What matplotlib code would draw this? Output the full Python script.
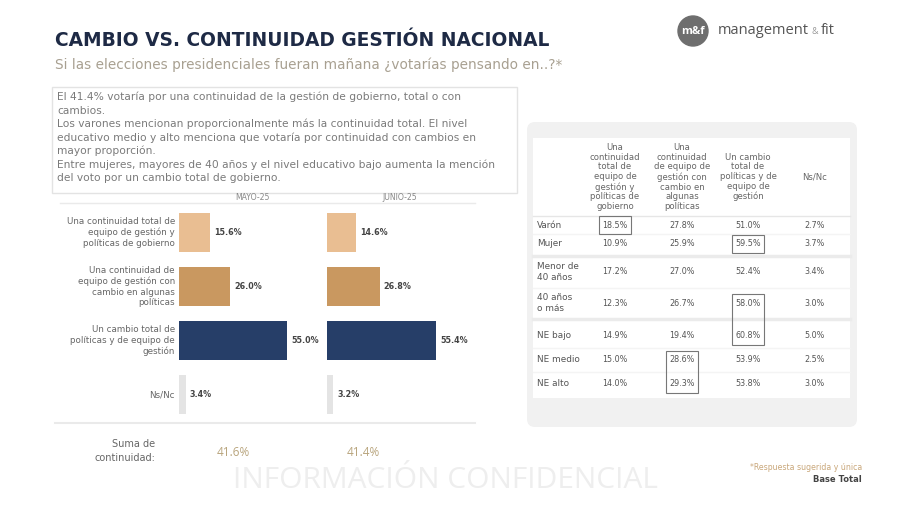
import matplotlib.pyplot as plt
from matplotlib.patches import FancyBboxPatch, Rectangle, Circle

# data
categories = ["Una continuidad total de\nequipo de gestión y\npolíticas de gobierno",
              "Una continuidad de\nequipo de gestión con\ncambio en algunas\npolíticas",
              "Un cambio total de\npolíticas y de equipo de\ngestión",
              "Ns/Nc"]
mayo = [15.6, 26.0, 55.0, 3.4]
junio = [14.6, 26.8, 55.4, 3.2]
periods = ["MAYO-25", "JUNIO-25"]
suma = [41.6, 41.4]

table_cols = ["Una\ncontinuidad\ntotal de\nequipo de\ngestión y\npolíticas de\ngobierno",
              "Una\ncontinuidad\nde equipo de\ngestión con\ncambio en\nalgunas\npolíticas",
              "Un cambio\ntotal de\npolíticas y de\nequipo de\ngestión",
              "Ns/Nc"]
table_rows = ["Varón", "Mujer", "Menor de\n40 años", "40 años\no más", "NE bajo", "NE medio", "NE alto"]
col_total = [18.5, 10.9, 17.2, 12.3, 14.9, 15.0, 14.0]
col_parcial = [27.8, 25.9, 27.0, 26.7, 19.4, 28.6, 29.3]
col_cambio = [51.0, 59.5, 52.4, 58.0, 60.8, 53.9, 53.8]
col_nsnc = [2.7, 3.7, 3.4, 3.0, 5.0, 2.5, 3.0]
# highlighted cells: (first row, last row, column)
highlights = [(0, 0, 0), (1, 1, 2), (3, 4, 2), (5, 6, 1)]

bar_colors = ["#E9BE92", "#C99860", "#263E68", "#E4E4E4"]
plt.rcParams['font.family'] = ['DejaVu Sans']
head = ["Open Sans", "DejaVu Sans"]

fig = plt.figure(figsize=(9, 5.05), dpi=100)
bg = fig.add_axes([0, 0, 1, 1])
bg.set_xlim(0, 900)
bg.set_ylim(505, 0)
bg.axis("off")

# header
bg.text(55, 40, "CAMBIO VS. CONTINUIDAD GESTIÓN NACIONAL", fontsize=13.4, fontweight="bold",
        color="#1E2A45", va="center")
bg.text(55, 65, "Si las elecciones presidenciales fueran mañana ¿votarías pensando en..?*",
        fontsize=9.8, color="#A8A091", va="center")
bg.add_patch(Circle((693, 31), 15, color="#6E6E6E"))
bg.text(693, 31, "m&f", color="white", fontsize=8, fontweight="bold", ha="center", va="center",
        family=head)
bg.text(718, 30, "management", fontsize=10.5, color="#555555", va="center", family=head)
bg.text(811, 32, "&", fontsize=6.5, color="#999999", va="center", family=head)
bg.text(821, 30, "fit", fontsize=10.5, color="#555555", va="center", family=head)

# summary box
bg.add_patch(Rectangle((52, 87), 465, 106, fill=False, edgecolor="#E3E3E3", lw=1))
summary = ["El 41.4% votaría por una continuidad de la gestión de gobierno, total o con",
           "cambios.",
           "Los varones mencionan proporcionalmente más la continuidad total. El nivel",
           "educativo medio y alto menciona que votaría por continuidad con cambios en",
           "mayor proporción.",
           "Entre mujeres, mayores de 40 años y el nivel educativo bajo aumenta la mención",
           "del voto por un cambio total de gobierno."]
for i, line in enumerate(summary):
    bg.text(57, 97 + i * 13.5, line, fontsize=7.7, color="#7A7A7A", va="center")

# bar charts
bg.plot([60, 475], [203, 203], color="#EAEAEA", lw=1)
bg.plot([55, 475], [423, 423], color="#EAEAEA", lw=1.5)
bg.text(252, 198, periods[0], fontsize=5.6, color="#888888", ha="center", va="center")
bg.text(400, 198, periods[1], fontsize=5.6, color="#888888", ha="center", va="center")

for k, (vals, left) in enumerate([(mayo, 179), (junio, 327)]):
    ax = fig.add_axes([left / 900, 1 - 421.5 / 505, 118 / 900, 216 / 505])
    ax.barh(range(len(vals)), vals, height=0.72, color=bar_colors)
    ax.set_xlim(0, 60)
    ax.set_ylim(len(vals) - 0.5, -0.5)
    ax.axis("off")
    for i, v in enumerate(vals):
        ax.annotate(f"{v:.1f}%", (v, i), xytext=(3, 0), textcoords="offset points",
                    fontsize=5.8, fontweight="bold", color="#444444", va="center",
                    annotation_clip=False)
    if k == 0:
        for i, c in enumerate(categories):
            ax.annotate(c, (0, i), xytext=(-3, 0), textcoords="offset points",
                        fontsize=6.3, color="#666666", ha="right", va="center",
                        multialignment="right", linespacing=1.25, annotation_clip=False)

bg.text(155, 451, "Suma de\ncontinuidad:", fontsize=7, color="#666666", ha="right",
        va="center", multialignment="right", linespacing=1.4)
bg.text(233, 452, f"{suma[0]:.1f}%", fontsize=8.5, color="#B8A47C", ha="center", va="center",
        family=head)
bg.text(363, 452, f"{suma[1]:.1f}%", fontsize=8.5, color="#B8A47C", ha="center", va="center",
        family=head)

# table panel
bg.add_patch(FancyBboxPatch((527, 122), 330, 305, boxstyle="round,pad=0,rounding_size=8",
                            facecolor="#F1F1F1", edgecolor="none"))
bg.add_patch(Rectangle((533, 138), 317, 260, facecolor="white", edgecolor="none"))
col_x = [615, 682, 748, 815]
row_y = [225, 244, 272, 303, 336, 360, 384]
for x, c in zip(col_x, table_cols):
    bg.text(x, 177, c, fontsize=6.1, color="#666666", ha="center", va="center",
            linespacing=1.12)
bg.plot([533, 850], [216, 216], color="#E6E6E6", lw=1)
for y in [256, 319]:
    bg.plot([533, 850], [y, y], color="#EBEBEB", lw=2.5)
for y in [234, 288, 348, 372]:
    bg.plot([533, 850], [y, y], color="#F4F4F4", lw=1)
columns = [col_total, col_parcial, col_cambio, col_nsnc]
for r, (lab, y) in enumerate(zip(table_rows, row_y)):
    bg.text(537, y, lab, fontsize=6.4, color="#555555", va="center", linespacing=1.3)
    for x, col in zip(col_x, columns):
        bg.text(x, y, f"{col[r]:.1f}%", fontsize=5.8, color="#555555", ha="center", va="center")
for r0, r1, c in highlights:
    y0 = row_y[r0] - 9
    y1 = row_y[r1] + 9
    bg.add_patch(Rectangle((col_x[c] - 16, y0), 32, y1 - y0, fill=False,
                           edgecolor="#777777", lw=0.8, zorder=3))

# footer
bg.text(445, 480, "INFORMACIÓN CONFIDENCIAL", fontsize=21.5, color="#EEEEEE",
        ha="center", va="center", family=head)
bg.text(862, 468, "*Respuesta sugerida y única", fontsize=5.6, color="#C9A77A", ha="right", va="center")
bg.text(862, 480, "Base Total", fontsize=6, color="#444444", fontweight="bold", ha="right", va="center")

fig.savefig("out.png", dpi=100)
